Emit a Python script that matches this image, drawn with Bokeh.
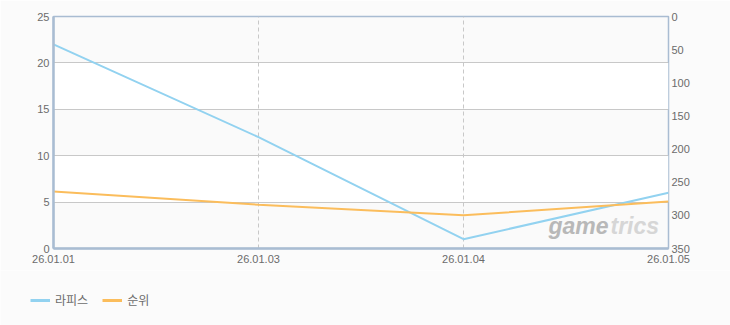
from bokeh.plotting import figure
from bokeh.models import Range1d, LinearAxis, FixedTicker, Legend, LegendItem, Label, Grid
from bokeh.layouts import column
from bokeh.embed import file_html
from bokeh.resources import INLINE

dates = ["26.01.01", "26.01.03", "26.01.04", "26.01.05"]
lapis = [22, 12, 1, 6]
rank = [264, 284, 300, 279]
left_ticks = [0, 5, 10, 15, 20, 25]
right_ticks = [0, 50, 100, 150, 200, 250, 300, 350]
series_names = ["라피스", "순위"]

xs = list(range(len(dates)))
BG = "#fbfbfb"
AXC = "#a9bcd2"
TXT = "#6b6b6b"
FONT = "Liberation Sans"
BLUE = "#92d2f0"
ORANGE = "#fbbd5c"

p = figure(width=730, height=270, output_backend="svg", toolbar_location=None,
           x_range=Range1d(0, len(dates) - 1), y_range=Range1d(0, 25),
           min_border_left=53, min_border_right=62, min_border_top=16, min_border_bottom=22,
           background_fill_color="#fafafa", border_fill_color=BG,
           outline_line_color=AXC, outline_line_width=1.5)
p.extra_y_ranges = {"rank": Range1d(350, 0)}

p.xaxis.ticker = FixedTicker(ticks=xs)
p.xaxis.major_label_overrides = {i: d for i, d in enumerate(dates)}
p.yaxis.ticker = FixedTicker(ticks=left_ticks)

for ax in [p.xaxis[0], p.yaxis[0]]:
    ax.axis_line_color = AXC
    ax.axis_line_width = 2.5
    ax.major_tick_line_color = None
    ax.minor_tick_line_color = None
    ax.major_label_text_color = TXT
    ax.major_label_text_font = FONT
    ax.major_label_text_font_size = "11px"
p.xaxis.major_label_standoff = 0
p.yaxis.major_label_standoff = -2

ra = LinearAxis(y_range_name="rank", ticker=FixedTicker(ticks=right_ticks))
ra.axis_line_color = None
ra.major_tick_line_color = None
ra.minor_tick_line_color = None
ra.major_label_text_color = TXT
ra.major_label_text_font = FONT
ra.major_label_text_font_size = "11px"
ra.major_label_standoff = -3
p.add_layout(ra, "right")

p.ygrid.ticker = FixedTicker(ticks=left_ticks)
p.ygrid.grid_line_color = "#c8c8c8"
p.ygrid.grid_line_width = 1
p.ygrid.band_fill_color = "#ffffff"
p.ygrid.band_fill_alpha = 1.0
p.xgrid.visible = False
vgrid = Grid(dimension=0, ticker=FixedTicker(ticks=xs[1:-1]),
             grid_line_color="#c8c8c8", grid_line_dash="4 3")
p.add_layout(vgrid, "center")

wm1 = Label(x=495, y=10, x_units="screen", y_units="screen", text="game",
            text_font="Liberation Sans", text_font_style="bold italic", text_font_size="23px",
            text_color="#b8b8b8")
wm2 = Label(x=557, y=10, x_units="screen", y_units="screen", text="trics",
            text_font="Liberation Sans", text_font_style="bold italic", text_font_size="23px",
            text_color="#d6d6d6")
p.add_layout(wm1)
p.add_layout(wm2)

p.line(xs, lapis, line_color=BLUE, line_width=2)
p.line(xs, rank, line_color=ORANGE, line_width=2, y_range_name="rank")

# legend strip below the chart (series drawn outside this strip's visible ranges)
p2 = figure(width=730, height=55, output_backend="svg", toolbar_location=None,
            x_range=Range1d(-10, -9), y_range=Range1d(-10, -9),
            x_axis_location=None, y_axis_location=None,
            min_border=0, min_border_left=0, min_border_right=0,
            min_border_top=0, min_border_bottom=0,
            background_fill_color=BG, border_fill_color=BG,
            outline_line_color=None, frame_align=False)
p2.grid.visible = False
k1 = p2.line(xs, lapis, line_color=BLUE, line_width=3)
k2 = p2.line(xs, lapis, line_color=ORANGE, line_width=3)
legend = Legend(items=[LegendItem(label=series_names[0], renderers=[k1]),
                       LegendItem(label=series_names[1], renderers=[k2])],
                orientation="horizontal", location=(30, 17),
                background_fill_alpha=0, border_line_color=None,
                label_text_font="Noto Sans CJK KR", label_text_font_size="12px",
                label_text_color=TXT, glyph_width=20, glyph_height=12,
                spacing=14, padding=0, margin=0, label_standoff=5)
p2.add_layout(legend)

open("out.html", "w").write(file_html(column(p, p2, spacing=0), INLINE))
